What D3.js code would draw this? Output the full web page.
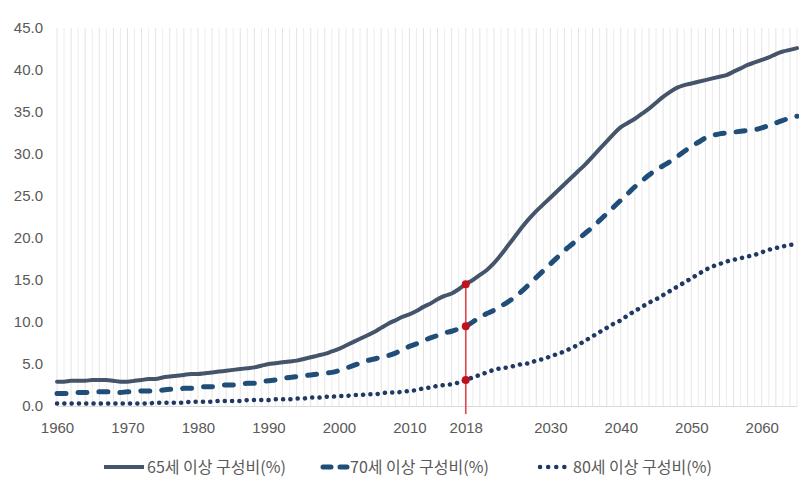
<!DOCTYPE html>
<html>
<head>
<meta charset="utf-8">
<script src="https://cdn.jsdelivr.net/npm/d3@7"></script>
<style>
  body { margin: 0; background: #fff; }
  svg text { font-family: "Liberation Sans", "Noto Sans", sans-serif; }
</style>
</head>
<body>
<div id="chart"></div>
<script>
// years 1960 .. 2065
var years = d3.range(1960, 2066);

// 65세 이상 구성비(%)
var age65 = [
  2.9, 2.9, 3.0, 3.0, 3.0, 3.1, 3.1, 3.1, 3.0, 2.9,
  2.9, 3.0, 3.1, 3.2, 3.2, 3.4, 3.5, 3.6, 3.7, 3.8,
  3.8, 3.9, 4.0, 4.1, 4.2, 4.3, 4.4, 4.5, 4.6, 4.8,
  5.0, 5.1, 5.2, 5.3, 5.4, 5.6, 5.8, 6.0, 6.2, 6.5,
  6.8, 7.2, 7.6, 8.0, 8.4, 8.8, 9.3, 9.8, 10.2, 10.6,
  10.9, 11.3, 11.8, 12.2, 12.7, 13.1, 13.4, 13.9, 14.5, 15.0,
  15.6, 16.2, 17.0, 18.0, 19.1, 20.2, 21.3, 22.3, 23.2, 24.0,
  24.8, 25.6, 26.4, 27.2, 28.0, 28.8, 29.7, 30.6, 31.5, 32.4,
  33.2, 33.7, 34.2, 34.8, 35.4, 36.1, 36.8, 37.4, 37.9, 38.2,
  38.4, 38.6, 38.8, 39.0, 39.2, 39.4, 39.8, 40.2, 40.6, 40.9,
  41.2, 41.5, 41.9, 42.2, 42.4, 42.6
];

// 70세 이상 구성비(%)
var age70 = [
  1.5, 1.5, 1.5, 1.6, 1.6, 1.7, 1.7, 1.7, 1.6, 1.6,
  1.7, 1.7, 1.8, 1.8, 1.8, 1.9, 2.0, 2.0, 2.1, 2.1,
  2.2, 2.3, 2.3, 2.4, 2.5, 2.5, 2.6, 2.7, 2.7, 2.9,
  3.0, 3.1, 3.3, 3.4, 3.5, 3.6, 3.7, 3.8, 3.9, 4.0,
  4.2, 4.5, 4.8, 5.1, 5.4, 5.6, 5.8, 6.0, 6.3, 6.7,
  7.1, 7.4, 7.8, 8.1, 8.4, 8.7, 8.9, 9.2, 9.5, 10.0,
  10.6, 11.0, 11.4, 11.9, 12.4, 13.0, 13.7, 14.5, 15.3, 16.1,
  16.9, 17.7, 18.5, 19.2, 19.9, 20.6, 21.3, 22.1, 22.9, 23.7,
  24.5, 25.3, 26.1, 26.8, 27.5, 28.1, 28.6, 29.1, 29.7, 30.3,
  30.9, 31.4, 31.9, 32.2, 32.4, 32.5, 32.6, 32.7, 32.8, 32.9,
  33.1, 33.4, 33.7, 34.0, 34.3, 34.5
];

// 80세 이상 구성비(%)
var age80 = [
  0.3, 0.3, 0.3, 0.3, 0.3, 0.3, 0.3, 0.3, 0.3, 0.3,
  0.3, 0.3, 0.3, 0.3, 0.4, 0.4, 0.4, 0.4, 0.4, 0.5,
  0.5, 0.5, 0.5, 0.6, 0.6, 0.6, 0.6, 0.7, 0.7, 0.7,
  0.7, 0.8, 0.8, 0.8, 0.9, 0.9, 1.0, 1.0, 1.1, 1.1,
  1.2, 1.2, 1.3, 1.3, 1.4, 1.4, 1.5, 1.6, 1.6, 1.7,
  1.8, 1.9, 2.1, 2.2, 2.4, 2.5, 2.6, 2.8, 3.1, 3.4,
  3.7, 4.0, 4.3, 4.5, 4.6, 4.8, 5.0, 5.1, 5.4, 5.6,
  5.9, 6.2, 6.5, 6.9, 7.3, 7.8, 8.3, 8.8, 9.3, 9.8,
  10.2, 10.8, 11.3, 11.8, 12.3, 12.7, 13.2, 13.7, 14.2, 14.7,
  15.2, 15.7, 16.2, 16.6, 16.9, 17.2, 17.4, 17.6, 17.8, 18.0,
  18.3, 18.6, 18.8, 19.0, 19.2, 19.2
];

var xTicks = [1960, 1970, 1980, 1990, 2000, 2010, 2018, 2030, 2040, 2050, 2060];
var yTicks = [0, 5, 10, 15, 20, 25, 30, 35, 40, 45];
var markYear = 2018;
var seriesNames = ["65세 이상 구성비(%)", "70세 이상 구성비(%)", "80세 이상 구성비(%)"];

var width = 799, height = 482;

var svg = d3.select("#chart")
    .append("svg")
    .attr("width", width)
    .attr("height", height);

var x = d3.scaleLinear().domain([1960, 2065]).range([57, 797]);
var y = d3.scaleLinear().domain([0, 45]).range([406, 28]);

// faint yearly grid lines
svg.append("g")
    .selectAll("line")
    .data(years)
    .enter()
    .append("line")
    .attr("x1", function (d) { return x(d); })
    .attr("x2", function (d) { return x(d); })
    .attr("y1", y(45))
    .attr("y2", y(0))
    .attr("stroke", function (d, i) { return i % 2 ? "#ededed" : "#e3e3e3"; })
    .attr("stroke-width", 1);

// y axis (labels only)
var yAxis = svg.append("g")
    .attr("transform", "translate(43,0)")
    .call(d3.axisLeft(y).tickValues(yTicks).tickSize(0).tickPadding(0)
        .tickFormat(d3.format(".1f")));
yAxis.select(".domain").remove();
yAxis.selectAll("text")
    .attr("fill", "#595959")
    .style("font-size", "15px");

// x axis
var xAxis = svg.append("g")
    .attr("transform", "translate(0," + y(0) + ")")
    .call(d3.axisBottom(x).tickValues(xTicks).tickSize(0).tickPadding(16)
        .tickFormat(d3.format("d")));
xAxis.select(".domain")
    .attr("stroke", "#d9d9d9")
    .attr("d", "M57,0.5H797");
xAxis.selectAll("text")
    .attr("fill", "#595959")
    .style("font-size", "15px");

var line = d3.line()
    .x(function (d, i) { return x(years[i]); })
    .y(function (d) { return y(d); })
    .curve(d3.curveMonotoneX);

var styles = [
    { data: age65, color: "#44546a", dash: null, w: 4 },
    { data: age70, color: "#1f4e79", dash: "9,12", w: 5 },
    { data: age80, color: "#203864", dash: "0.1,7.2", w: 4.5 }
];

// red marker line at 2018
var mi = years.indexOf(markYear);
svg.append("line")
    .attr("x1", x(markYear))
    .attr("x2", x(markYear))
    .attr("y1", y(age65[mi]))
    .attr("y2", y(0) + 8)
    .attr("stroke", "#e0474c")
    .attr("stroke-width", 1.6);

styles.forEach(function (s) {
    svg.append("path")
        .datum(s.data)
        .attr("fill", "none")
        .attr("stroke", s.color)
        .attr("stroke-width", s.w)
        .attr("stroke-linecap", "round")
        .attr("stroke-linejoin", "round")
        .attr("stroke-dasharray", s.dash)
        .attr("d", line);
});

// red dots at 2018
svg.selectAll("circle.mark")
    .data([age65[mi], age70[mi], age80[mi]])
    .enter()
    .append("circle")
    .attr("class", "mark")
    .attr("cx", x(markYear))
    .attr("cy", function (d) { return y(d); })
    .attr("r", 4)
    .attr("fill", "#c0111f");

// legend
var legendX = [104, 323, 540];
var legendLen = [40, 24, 30];
var legend = svg.append("g");
styles.forEach(function (s, i) {
    var g = legend.append("g").attr("transform", "translate(" + legendX[i] + ",467)");
    g.append("line")
        .attr("x1", 0).attr("x2", legendLen[i])
        .attr("y1", 0).attr("y2", 0)
        .attr("stroke", s.color)
        .attr("stroke-width", s.w)
        .attr("stroke-linecap", i === 0 ? "butt" : "round")
        .attr("stroke-dasharray", i === 1 ? "8,9" : (i === 2 ? "0.1,8" : null));
    g.append("text")
        .attr("x", legendLen[i] + 3)
        .attr("y", 6)
        .attr("fill", "#595959")
        .style("font-family", "'Noto Sans CJK KR', sans-serif")
        .style("font-size", "16px")
        .text(seriesNames[i]);
});
</script>
</body>
</html>
